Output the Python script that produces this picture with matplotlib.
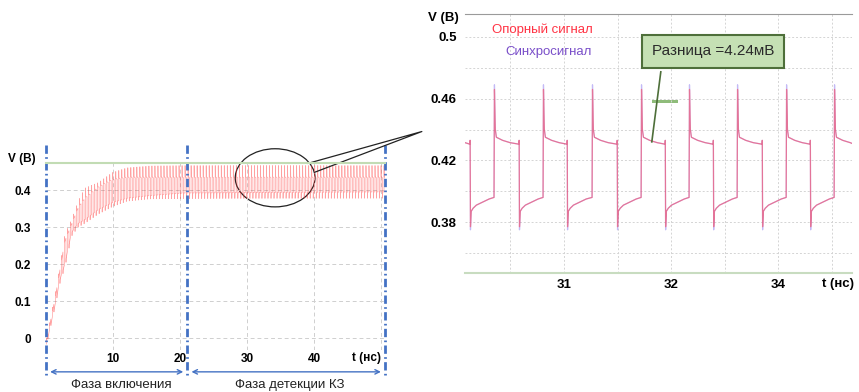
import numpy as np
import matplotlib.pyplot as plt
from matplotlib.patches import Ellipse, Rectangle

plt.rcParams['font.family'] = ['Liberation Sans', 'DejaVu Sans']

# ---- left panel: ripple envelope (t in ns, V)
env_t    = [0.0, 1.35, 2.1, 2.8, 3.8, 4.8, 5.8, 7.8, 9.9, 12.1, 15.5, 20.4, 50.6]
env_low  = [-0.02, 0.09, 0.16, 0.20, 0.285, 0.31, 0.32, 0.347, 0.366, 0.378, 0.385, 0.392, 0.395]
env_high = [-0.01, 0.11, 0.19, 0.265, 0.31, 0.355, 0.38, 0.41, 0.43, 0.436, 0.436, 0.436, 0.436]
env_top  = [-0.005, 0.12, 0.20, 0.28, 0.32, 0.37, 0.405, 0.42, 0.447, 0.46, 0.465, 0.466, 0.466]
env_bot  = [-0.025, 0.085, 0.15, 0.19, 0.275, 0.30, 0.31, 0.335, 0.355, 0.37, 0.376, 0.377, 0.378]
ripple_period = 0.45

left_xticks = [10, 20, 30, 40]
left_yticks = [0, 0.1, 0.2, 0.3, 0.4]
phase_marks = [0, 21.1, 50.6]
phase_names = ['Фаза включения', 'Фаза детекции КЗ']
phase_label_t = [11.3, 36.4]

# ---- right panel: edge times
falls = [30.121, 30.579, 31.028, 31.495, 31.944, 32.393, 32.850, 33.299]
rises = [30.346, 30.804, 31.262, 31.720, 32.168, 32.617, 33.075, 33.523]
up_off = [0.0, 0.004, 0.012, 0.022, 0.08, 0.15]
up_val = [0.396, 0.466, 0.440, 0.435, 0.4330, 0.4315]
lo_off = [0.012, 0.03, 0.06, 0.12, 0.18]
lo_val = [0.387, 0.389, 0.391, 0.393, 0.395]
right_xticks = [31, 32, 33]
right_xlabels = ['31', '32', '34']
right_yticks = [0.38, 0.42, 0.46, 0.5]


def left_trace():
    ts, vs = [], []
    r = 0.05
    while r < 50.6:
        f = r + ripple_period / 2
        lo = lambda t: np.interp(t, env_t, env_low)
        hi = lambda t: np.interp(t, env_t, env_high)
        ts += [r, r + 0.01, r + 0.03, f, f + 0.01, f + 0.03]
        vs += [lo(r), np.interp(r, env_t, env_top), hi(r), hi(f) - 0.003,
               np.interp(f, env_t, env_bot), lo(f)]
        r += ripple_period
    return np.array(ts), np.array(vs)


def right_trace(top, bot):
    ts, vs = [30.075], [0.4315]
    for f, r in zip(falls, rises):
        ts += [f, f + 0.002, f + 0.005]
        vs += [0.4305, 0.433, bot]
        ts += [f + o for o in lo_off]
        vs += lo_val
        ts += [r + o for o in up_off]
        vs += [up_val[0], top] + up_val[2:]
    ts.append(33.69)
    vs.append(0.431)
    return ts, vs


fig = plt.figure(figsize=(8.59, 3.92), dpi=100)

# ================= left panel
ax = fig.add_axes([46 / 859, 1 - 350 / 392, 339 / 859, 187 / 392])
ax.set_xlim(0, 50.6)
ax.set_ylim(-0.032, 0.473)
lt, lv = left_trace()
ax.plot(lt, lv, color='#ff3030', lw=0.5, alpha=0.45)
ax.set_xticks(left_xticks + [50])
ax.set_xticklabels([str(x) for x in left_xticks] + [''])
ax.set_yticks(left_yticks)
ax.set_yticklabels(['0' if y == 0 else f'{y:g}' for y in left_yticks])
ax.tick_params(length=0, labelsize=8.5, pad=2)
ax.tick_params(axis='y', pad=11)
for lab in ax.get_xticklabels() + ax.get_yticklabels():
    lab.set_fontweight('bold')
ax.grid(True, color='#cfcfcf', ls=(0, (4, 3)), lw=0.7)
for s in ['left', 'right', 'bottom']:
    ax.spines[s].set_visible(False)
ax.spines['top'].set_color('#c2dcb4')
ax.spines['top'].set_linewidth(1.5)
ax.text(-3.6, 0.485, 'V (B)', fontsize=8.5, fontweight='bold', ha='center', va='center')
ax.text(47.9, -0.053, 't (нс)', fontsize=8.5, fontweight='bold', ha='center', va='center')

for xm in phase_marks:
    ax.plot([xm, xm], [0.522, -0.107], color='#4472c4', lw=2,
            dashes=[3, 1.2, 0.6, 1.2], clip_on=False)
for (a, b), name, lx in zip([(phase_marks[0], phase_marks[1]), (phase_marks[1], phase_marks[2])],
                            phase_names, phase_label_t):
    ax.annotate('', xy=(b - 0.2, -0.091), xytext=(a + 0.2, -0.091),
                arrowprops=dict(arrowstyle='<->', color='#4472c4', lw=1, mutation_scale=8),
                annotation_clip=False)
    ax.text(lx, -0.126, name, fontsize=9.5, color='#222222',
            ha='center', va='center', clip_on=False)

ax.add_patch(Ellipse((34.2, 0.433), 11.9, 0.157, fill=False, ec='#222222', lw=0.9, clip_on=False))
ax.plot([39.1, 56.1, 40.1], [0.472, 0.558, 0.448], color='#222222', lw=0.9, clip_on=False)

# ================= right panel
bx = fig.add_axes([465 / 859, 1 - 273 / 392, 387 / 859, 259 / 392])
bx.set_xlim(30.075, 33.69)
bx.set_ylim(0.347, 0.5149)
st, sv = right_trace(0.469, 0.375)
bx.plot(st, sv, color='#9c8cf0', lw=0.9, alpha=0.6)
rt, rv = right_trace(0.466, 0.377)
bx.plot(rt, rv, color='#ff3b4e', lw=0.9, alpha=0.55)
bx.set_xticks(right_xticks)
bx.set_xticklabels(right_xlabels)
bx.set_xticks(np.arange(30.5, 33.6, 0.5), minor=True)
bx.set_yticks(right_yticks)
bx.set_yticklabels([f'{y:g}' for y in right_yticks])
bx.set_yticks(np.arange(0.36, 0.51, 0.02), minor=True)
bx.tick_params(which='both', length=0, labelsize=9.5, pad=4)
bx.tick_params(axis='y', pad=6)
for lab in bx.get_xticklabels() + bx.get_yticklabels():
    lab.set_fontweight('bold')
bx.grid(True, which='both', color='#d4d4d4', ls=(0, (2, 2)), lw=0.7)
bx.spines['left'].set_visible(False)
bx.spines['right'].set_visible(False)
bx.spines['top'].set_color('#9a9a9a')
bx.spines['top'].set_linewidth(0.8)
bx.spines['bottom'].set_color('#c8dcc0')
bx.spines['bottom'].set_linewidth(1.5)
bx.text(30.02, 0.5125, 'V (B)', fontsize=9.5, fontweight='bold', ha='right', va='center')
bx.text(33.56, 0.3398, 't (нс)', fontsize=9.5, fontweight='bold', ha='center', va='center')

bx.text(30.80, 0.505, 'Опорный сигнал', color='#ff3344', fontsize=9.5, ha='center', va='center')
bx.text(30.86, 0.4901, 'Синхросигнал', color='#7a4fc9', fontsize=9.5, ha='center', va='center')

bx.plot([31.904, 31.82], [0.4774, 0.432], color='#4e6f3a', lw=1.2)
bx.add_patch(Rectangle((31.82, 0.4575), 0.24, 0.0018, fc='#8fbc7a', ec='none'))
bx.text(32.393, 0.4908, 'Разница =4.24мВ', fontsize=11, color='#2a2a2a', ha='center', va='center',
        bbox=dict(boxstyle='square,pad=0.62', fc='#c5e0b4', ec='#4e6f3a', lw=1.5))

fig.savefig('out.png', dpi=100)
